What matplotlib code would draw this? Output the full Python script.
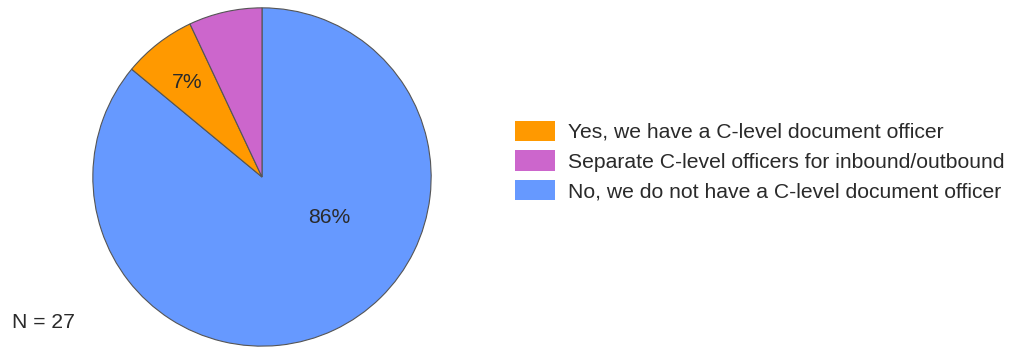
import matplotlib
matplotlib.use("Agg")
import matplotlib.pyplot as plt
from matplotlib.patches import Patch

plt.rcParams['font.family'] = ['Liberation Sans', 'DejaVu Sans']

# survey answers, N = 27
categories = ["No, we do not have a C-level document officer",
              "Yes, we have a C-level document officer",
              "Separate C-level officers for inbound/outbound"]
shares = [86, 7, 7]
colors = ["#6699FF", "#FF9900", "#CC66CC"]
shown_labels = ["86%", "7%", ""]
legend_order = [1, 2, 0]
n_label = "N = 27"

fig = plt.figure(figsize=(10.28, 3.47), dpi=100)
ax = fig.add_axes([92 / 1028, 0, 340 / 1028, 340 / 347])

wedges, texts = ax.pie(shares, colors=colors, startangle=90, counterclock=False,
                       wedgeprops=dict(edgecolor="#555555", linewidth=0.8))
ax.set_xlim(-1.005, 1.005)
ax.set_ylim(-1.005, 1.005)

# percentage labels placed as in the original chart
label_pos = [(0.40, -0.24), (-0.44, 0.56)]
for i, pos in enumerate(label_pos):
    ax.text(pos[0], pos[1], shown_labels[i], ha="center", va="center",
            fontsize=15.2, color="#2a2a2a")

handles = [Patch(facecolor=colors[i], edgecolor="none") for i in legend_order]
labels = [categories[i] for i in legend_order]
fig.legend(handles, labels, loc="center left", bbox_to_anchor=(515 / 1028, 1 - 161 / 347),
           frameon=False, fontsize=15.2, borderpad=0, borderaxespad=0,
           handlelength=1.9, handleheight=1.1, handletextpad=0.6, labelspacing=0.4,
           labelcolor="#2a2a2a")

fig.text(12 / 1028, 1 - 323 / 347, n_label, ha="left", va="center", fontsize=15.2,
         color="#2a2a2a")

fig.savefig("out.png", dpi=100, facecolor="white")
